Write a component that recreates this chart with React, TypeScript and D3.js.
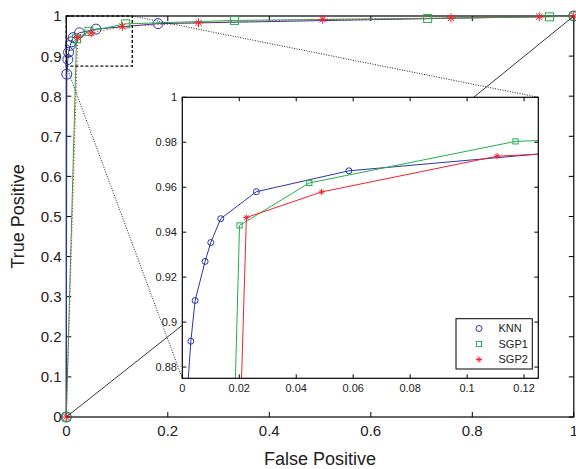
import React from "react";
import * as d3 from "d3";

// ---- data ----
const seriesNames = ["KNN", "SGP1", "SGP2"];
const knnFP = [0, 0.001, 0.003, 0.0045, 0.008, 0.01, 0.0135, 0.026, 0.0585, 0.1806, 1];
const knnTP = [0, 0.855, 0.8915, 0.9096, 0.927, 0.9354, 0.946, 0.958, 0.9673, 0.981, 1];
const sgp1FP = [0, 0.0201, 0.0446, 0.117, 0.3315, 0.712, 0.952, 1];
const sgp1TP = [0, 0.943, 0.9619, 0.9804, 0.989, 0.994, 0.998, 1];
const sgp2FP = [0, 0.0225, 0.0489, 0.1105, 0.2606, 0.505, 0.758, 0.932, 1];
const sgp2TP = [0, 0.9465, 0.9579, 0.9738, 0.983, 0.9918, 0.995, 0.998, 1];

const mainXTicks = [0, 0.2, 0.4, 0.6, 0.8, 1];
const mainYTicks = [0, 0.1, 0.2, 0.3, 0.4, 0.5, 0.6, 0.7, 0.8, 0.9, 1];
const insetXTicks = [0, 0.02, 0.04, 0.06, 0.08, 0.1, 0.12];
const insetYTicks = [0.88, 0.9, 0.92, 0.94, 0.96, 0.98, 1];
const insetXDomain = [0, 0.125];
const insetYDomain = [0.875, 1];
const zoomBoxX = [0, 0.13];
const zoomBoxY = [0.875, 1];
// annotation anchors in inset data space (where solid lines meet inset)
const anchorLow = [0, 0.8986];
const anchorHigh = [0.1023, 1];

const colors = ["#2a36a6", "#20b04a", "#f2222e"];
const markers = ["circle", "square", "star"];

const W = 576, H = 469;
const FONT = "'Liberation Sans', Arial, sans-serif";
const fmt = (v: number) => String(+v.toFixed(3));

const series = [
  { fp: knnFP, tp: knnTP },
  { fp: sgp1FP, tp: sgp1TP },
  { fp: sgp2FP, tp: sgp2TP },
];

function Marker({ type, x, y, s, color }: any) {
  if (type === "circle")
    return <circle cx={x} cy={y} r={s} fill="none" stroke={color} strokeWidth={1} />;
  if (type === "square")
    return <rect x={x - s} y={y - s} width={2 * s} height={2 * s} fill="none" stroke={color} strokeWidth={1} />;
  const k = s * 0.7071;
  return (
    <path
      d={`M${x - s},${y}L${x + s},${y}M${x},${y - s}L${x},${y + s}M${x - k},${y - k}L${x + k},${y + k}M${x - k},${y + k}L${x + k},${y - k}`}
      stroke={color}
      strokeWidth={1}
      fill="none"
    />
  );
}

export default function App() {
  const mx = d3.scaleLinear().domain([0, 1]).range([66.3, 573.8]);
  const my = d3.scaleLinear().domain([0, 1]).range([417, 16]);
  const ix = d3.scaleLinear().domain(insetXDomain).range([182.3, 538.3]);
  const iy = d3.scaleLinear().domain(insetYDomain).range([378.3, 97.3]);

  const mainLine = (s: any) =>
    d3.line<number>().x((_, i) => mx(s.fp[i])).y((_, i) => my(s.tp[i]))(s.fp) || "";
  const insetLine = (s: any) =>
    d3.line<number>().x((_, i) => ix(s.fp[i])).y((_, i) => iy(s.tp[i]))(s.fp) || "";

  const mainMarkerSize = [5, 4, 4.5];
  const insetMarkerSize = [3, 2.6, 3];

  const [ix0, ix1] = ix.range();
  const [iy0, iy1] = iy.range();

  return (
    <div style={{ position: "absolute", left: 0, top: 0 }}>
      <svg width={W} height={H} style={{ display: "block", fontFamily: FONT }}>
        <rect width={W} height={H} fill="#fff" />
        <defs>
          <clipPath id="insetClip">
            <rect x={ix0} y={iy1} width={ix1 - ix0} height={iy0 - iy1} />
          </clipPath>
        </defs>

        {/* main axes ticks */}
        {mainXTicks.map((t) => (
          <g key={"mx" + t}>
            <line x1={mx(t)} x2={mx(t)} y1={my(0)} y2={my(0) - 5} stroke="#000" />
            <line x1={mx(t)} x2={mx(t)} y1={my(1)} y2={my(1) + 5} stroke="#000" />
            <text x={mx(t)} y={436} textAnchor="middle" fontSize={15} fill="#222">
              {fmt(t)}
            </text>
          </g>
        ))}
        {mainYTicks.map((t) => (
          <g key={"my" + t}>
            <line x1={mx(0)} x2={mx(0) + 5} y1={my(t)} y2={my(t)} stroke="#000" />
            <line x1={mx(1)} x2={mx(1) - 5} y1={my(t)} y2={my(t)} stroke="#000" />
            <text x={61.5} y={my(t)} dy="0.36em" textAnchor="end" fontSize={15} fill="#222">
              {fmt(t)}
            </text>
          </g>
        ))}
        <rect
          x={mx(0)}
          y={my(1)}
          width={mx(1) - mx(0)}
          height={my(0) - my(1)}
          fill="none"
          stroke="#000"
          strokeWidth={1.2}
        />
        <text x={(mx(0) + mx(1)) / 2} y={465} textAnchor="middle" fontSize={18} fill="#222">
          False Positive
        </text>
        <text
          transform={`translate(24,${(my(0) + my(1)) / 2}) rotate(-90)`}
          textAnchor="middle"
          fontSize={18}
          fill="#222"
        >
          True Positive
        </text>

        {/* main series */}
        {series.map((s, si) => (
          <g key={"ms" + si}>
            <path
              d={mainLine(s)}
              fill="none"
              stroke={colors[si]}
              strokeWidth={1}
              strokeDasharray={si === 2 ? "1.2,2" : undefined}
            />
            {s.fp.map((f, i) => (
              <Marker key={i} type={markers[si]} x={mx(f)} y={my(s.tp[i])} s={mainMarkerSize[si]} color={colors[si]} />
            ))}
          </g>
        ))}

        {/* zoom box */}
        <rect
          x={mx(zoomBoxX[0])}
          y={my(zoomBoxY[1])}
          width={mx(zoomBoxX[1]) - mx(zoomBoxX[0])}
          height={my(zoomBoxY[0]) - my(zoomBoxY[1])}
          fill="none"
          stroke="#111"
          strokeWidth={1.4}
          strokeDasharray="3,2"
        />
        {/* connecting dotted lines */}
        <line
          x1={mx(zoomBoxX[1])}
          y1={my(zoomBoxY[1])}
          x2={ix(insetXDomain[1])}
          y2={iy(insetYDomain[1])}
          stroke="#222"
          strokeWidth={1}
          strokeDasharray="1,1.5"
        />
        <line
          x1={mx(zoomBoxX[0])}
          y1={my(zoomBoxY[0])}
          x2={ix(insetXDomain[0])}
          y2={iy(insetYDomain[0])}
          stroke="#222"
          strokeWidth={1}
          strokeDasharray="1,1.5"
        />
        {/* solid annotation lines */}
        <line x1={mx(0)} y1={my(0)} x2={ix(anchorLow[0])} y2={iy(anchorLow[1])} stroke="#222" strokeWidth={0.9} />
        <line x1={mx(1)} y1={my(1)} x2={ix(anchorHigh[0])} y2={iy(anchorHigh[1])} stroke="#222" strokeWidth={0.9} />

        {/* inset */}
        <rect x={ix0} y={iy1} width={ix1 - ix0} height={iy0 - iy1} fill="#fff" />
        <g clipPath="url(#insetClip)">
          {series.map((s, si) => (
            <g key={"is" + si}>
              <path d={insetLine(s)} fill="none" stroke={colors[si]} strokeWidth={1} />
              {s.fp.map((f, i) => (
                <Marker key={i} type={markers[si]} x={ix(f)} y={iy(s.tp[i])} s={insetMarkerSize[si]} color={colors[si]} />
              ))}
            </g>
          ))}
        </g>
        {insetXTicks.map((t) => (
          <g key={"ix" + t}>
            <line x1={ix(t)} x2={ix(t)} y1={iy0} y2={iy0 - 4} stroke="#000" />
            <line x1={ix(t)} x2={ix(t)} y1={iy1} y2={iy1 + 4} stroke="#000" />
            <text x={ix(t)} y={392} textAnchor="middle" fontSize={11} fill="#222">
              {fmt(t)}
            </text>
          </g>
        ))}
        {insetYTicks.map((t) => (
          <g key={"iy" + t}>
            <line x1={ix0} x2={ix0 + 4} y1={iy(t)} y2={iy(t)} stroke="#000" />
            <line x1={ix1} x2={ix1 - 4} y1={iy(t)} y2={iy(t)} stroke="#000" />
            <text x={177} y={iy(t)} dy="0.36em" textAnchor="end" fontSize={11} fill="#222">
              {fmt(t)}
            </text>
          </g>
        ))}
        <rect x={ix0} y={iy1} width={ix1 - ix0} height={iy0 - iy1} fill="none" stroke="#000" strokeWidth={1.2} />

        {/* legend */}
        <g>
          <rect x={456} y={318.7} width={76.3} height={50.3} fill="#fff" stroke="#000" strokeWidth={1} />
          {seriesNames.map((n, i) => (
            <g key={n}>
              <Marker type={markers[i]} x={479} y={328.5 + i * 15.5} s={insetMarkerSize[i]} color={colors[i]} />
              <text x={498.5} y={328.5 + i * 15.5} dy="0.36em" fontSize={11} fill="#222">
                {n}
              </text>
            </g>
          ))}
        </g>
      </svg>
    </div>
  );
}
